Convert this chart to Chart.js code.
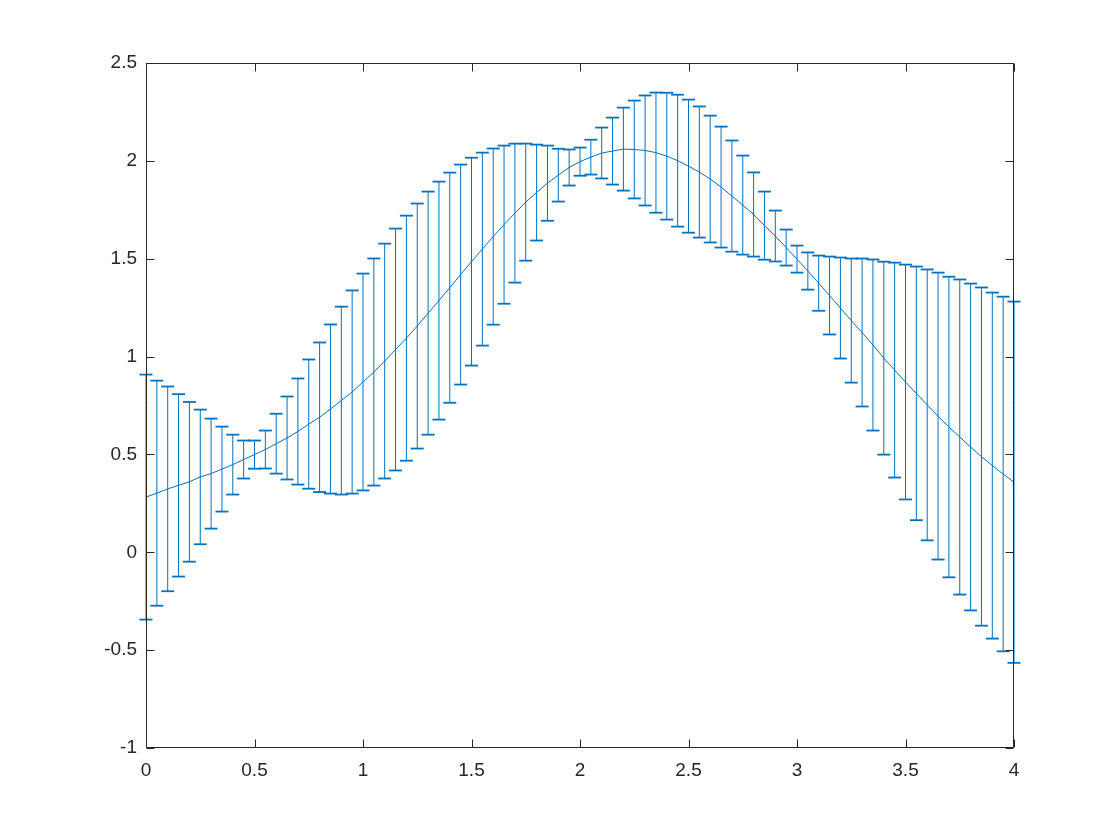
<!DOCTYPE html>
<html>
<head>
<meta charset="utf-8">
<script src="https://cdn.jsdelivr.net/npm/chart.js@4.4.1/dist/chart.umd.min.js"></script>
<style>
  html, body { margin: 0; padding: 0; background: #fff; }
  #wrap { width: 1120px; height: 840px; }
</style>
</head>
<body>
<div id="wrap"><canvas id="chart" width="1120" height="840"></canvas></div>
<script>
// x positions of the points (step 0.05)
const xValues = [
  0, 0.05, 0.1, 0.15, 0.2, 0.25, 0.3, 0.35, 0.4, 0.45,
  0.5, 0.55, 0.6, 0.65, 0.7, 0.75, 0.8, 0.85, 0.9, 0.95,
  1, 1.05, 1.1, 1.15, 1.2, 1.25, 1.3, 1.35, 1.4, 1.45,
  1.5, 1.55, 1.6, 1.65, 1.7, 1.75, 1.8, 1.85, 1.9, 1.95,
  2, 2.05, 2.1, 2.15, 2.2, 2.25, 2.3, 2.35, 2.4, 2.45,
  2.5, 2.55, 2.6, 2.65, 2.7, 2.75, 2.8, 2.85, 2.9, 2.95,
  3, 3.05, 3.1, 3.15, 3.2, 3.25, 3.3, 3.35, 3.4, 3.45,
  3.5, 3.55, 3.6, 3.65, 3.7, 3.75, 3.8, 3.85, 3.9, 3.95,
  4
];
// centre values
const yValues = [
  0.282, 0.302, 0.324, 0.342, 0.360, 0.385, 0.402, 0.425, 0.448, 0.474,
  0.499, 0.525, 0.555, 0.584, 0.617, 0.655, 0.690, 0.732, 0.775, 0.819,
  0.870, 0.921, 0.977, 1.036, 1.094, 1.156, 1.222, 1.286, 1.352, 1.419,
  1.485, 1.549, 1.613, 1.674, 1.733, 1.789, 1.838, 1.886, 1.927, 1.966,
  1.996, 2.019, 2.040, 2.050, 2.060, 2.058, 2.053, 2.042, 2.024, 2.001,
  1.973, 1.943, 1.907, 1.866, 1.820, 1.774, 1.726, 1.669, 1.616, 1.557,
  1.498, 1.437, 1.375, 1.312, 1.248, 1.184, 1.123, 1.059, 0.992, 0.931,
  0.870, 0.812, 0.753, 0.696, 0.640, 0.589, 0.538, 0.489, 0.443, 0.400,
  0.358
];
// half length of each error bar
const errValues = [
  0.626, 0.575, 0.523, 0.466, 0.408, 0.344, 0.281, 0.217, 0.153, 0.097,
  0.072, 0.097, 0.153, 0.212, 0.271, 0.330, 0.382, 0.432, 0.480, 0.519,
  0.554, 0.580, 0.600, 0.618, 0.626, 0.626, 0.621, 0.608, 0.588, 0.562,
  0.531, 0.493, 0.450, 0.404, 0.355, 0.299, 0.245, 0.192, 0.135, 0.092,
  0.072, 0.089, 0.130, 0.171, 0.212, 0.250, 0.281, 0.307, 0.324, 0.337,
  0.340, 0.335, 0.324, 0.309, 0.284, 0.253, 0.215, 0.174, 0.130, 0.092,
  0.069, 0.095, 0.141, 0.199, 0.258, 0.317, 0.378, 0.437, 0.493, 0.549,
  0.600, 0.648, 0.692, 0.733, 0.768, 0.805, 0.835, 0.864, 0.884, 0.906,
  0.923
];

const blue = '#0072BD';
const axisColor = '#262626';

const centre = xValues.map((x, i) => ({ x: x, y: yValues[i] }));
// vertical stems: low, high, gap
const stems = xValues.flatMap((x, i) => [
  { x: x, y: yValues[i] - errValues[i] },
  { x: x, y: yValues[i] + errValues[i] },
  { x: x, y: null }
]);
const caps = xValues.flatMap((x, i) => [
  { x: x, y: yValues[i] - errValues[i] },
  { x: x, y: yValues[i] + errValues[i] }
]);

// matlab style box with inward ticks
const boxPlugin = {
  id: 'box',
  afterDraw(chart) {
    const { ctx, chartArea: a, scales } = chart;
    const L = Math.round(a.left) + 0.5, R = Math.round(a.right) - 0.5;
    const T = Math.round(a.top) + 0.5, B = Math.round(a.bottom) - 0.5;
    const len = 8;
    ctx.save();
    ctx.strokeStyle = axisColor;
    ctx.lineWidth = 1;
    ctx.beginPath();
    ctx.rect(L, T, R - L, B - T);
    scales.x.ticks.forEach(t => {
      const px = Math.round(scales.x.getPixelForValue(t.value)) + 0.5;
      ctx.moveTo(px, B); ctx.lineTo(px, B - len);
      ctx.moveTo(px, T); ctx.lineTo(px, T + len);
    });
    scales.y.ticks.forEach(t => {
      const py = Math.round(scales.y.getPixelForValue(t.value)) + 0.5;
      ctx.moveTo(L, py); ctx.lineTo(L + len, py);
      ctx.moveTo(R, py); ctx.lineTo(R - len, py);
    });
    ctx.stroke();
    ctx.restore();
  }
};

const fmt = v => String(Number(v.toFixed(2)));

Chart.defaults.font.family = '"Liberation Sans", Arial, Helvetica, sans-serif';
Chart.defaults.font.size = 19;
Chart.defaults.color = axisColor;

new Chart('chart', {
  type: 'line',
  data: {
    datasets: [
      {
        data: stems,
        borderColor: blue,
        borderWidth: 1,
        pointRadius: 0,
        spanGaps: false,
        clip: false
      },
      {
        type: 'scatter',
        data: caps,
        pointStyle: 'line',
        pointRadius: 6.5,
        borderColor: blue,
        backgroundColor: blue,
        pointBorderWidth: 1.8,
        clip: false
      },
      {
        data: centre,
        borderColor: blue,
        borderWidth: 1,
        pointRadius: 0,
        tension: 0
      }
    ]
  },
  options: {
    responsive: false,
    animation: false,
    layout: { padding: { left: 0, top: 63, right: 106, bottom: 0 } },
    plugins: { legend: { display: false }, tooltip: { enabled: false } },
    scales: {
      x: {
        type: 'linear',
        min: 0,
        max: 4,
        grid: { display: false, drawTicks: false },
        border: { display: false },
        ticks: { stepSize: 0.5, padding: 11, maxRotation: 0, callback: fmt },
        afterFit(scale) { scale.height = 92; }
      },
      y: {
        type: 'linear',
        min: -1,
        max: 2.5,
        grid: { display: false, drawTicks: false },
        border: { display: false },
        ticks: { stepSize: 0.5, padding: 9, callback: fmt },
        afterFit(scale) { scale.width = 146; }
      }
    }
  },
  plugins: [boxPlugin]
});
</script>
</body>
</html>
